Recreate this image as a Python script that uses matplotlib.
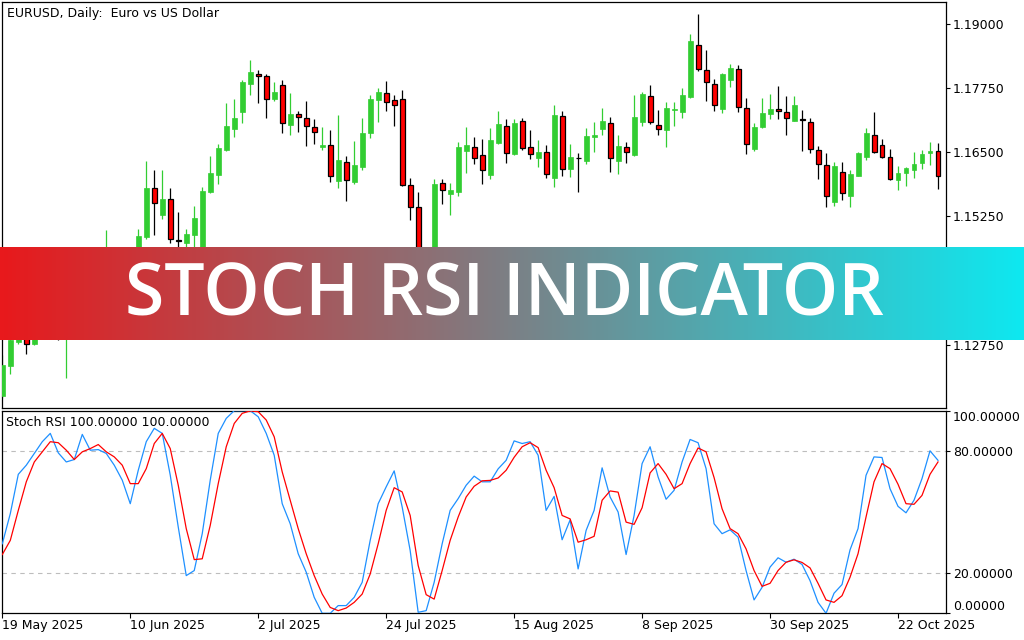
import matplotlib
matplotlib.use('Agg')
import matplotlib.pyplot as plt
import numpy as np
from matplotlib.colors import LinearSegmentedColormap

# daily EURUSD candles, 19 May 2025 .. 29 Oct 2025 (one per weekday)
opens = [1.1175, 1.1234, 1.1281, 1.1330, 1.1276, 1.1364, 1.1385, 1.1325, 1.1290, 1.1368,
         1.1347, 1.1444, 1.1372, 1.1419, 1.1445, 1.1396, 1.1420, 1.1424, 1.1484, 1.1580,
         1.1527, 1.1559, 1.1479, 1.1474, 1.1488, 1.1455, 1.1573, 1.1605, 1.1655, 1.1695,
         1.1728, 1.1784, 1.1803, 1.1799, 1.1754, 1.1781, 1.1704, 1.1725, 1.1717, 1.1699,
         1.1660, 1.1664, 1.1595, 1.1631, 1.1593, 1.1622, 1.1687, 1.1753, 1.1765, 1.1752,
         1.1754, 1.1586, 1.1543, 1.1405, 1.1414, 1.1590, 1.1568, 1.1572, 1.1653, 1.1661,
         1.1645, 1.1606, 1.1668, 1.1701, 1.1646, 1.1711, 1.1661, 1.1639, 1.1650, 1.1601,
         1.1721, 1.1617, 1.1640, 1.1633, 1.1681, 1.1695, 1.1707, 1.1634, 1.1661, 1.1645,
         1.1710, 1.1760, 1.1703, 1.1693, 1.1732, 1.1728, 1.1758, 1.1860, 1.1810, 1.1783,
         1.1734, 1.1792, 1.1812, 1.1736, 1.1657, 1.1700, 1.1724, 1.1735, 1.1728, 1.1712,
         1.1715, 1.1709, 1.1654, 1.1625, 1.1554, 1.1611, 1.1565, 1.1604, 1.1642, 1.1684,
         1.1665, 1.1641, 1.1597, 1.1609, 1.1615, 1.1630, 1.1648, 1.1652]
highs = [1.1255, 1.1300, 1.1345, 1.1350, 1.1375, 1.1418, 1.1390, 1.1345, 1.1390, 1.1385,
         1.1455, 1.1454, 1.1435, 1.1499, 1.1455, 1.1440, 1.1448, 1.1500, 1.1633, 1.1616,
         1.1616, 1.1580, 1.1533, 1.1500, 1.1546, 1.1583, 1.1643, 1.1667, 1.1747, 1.1754,
         1.1791, 1.1830, 1.1810, 1.1803, 1.1788, 1.1791, 1.1766, 1.1730, 1.1751, 1.1715,
         1.1700, 1.1694, 1.1723, 1.1643, 1.1672, 1.1718, 1.1762, 1.1776, 1.1789, 1.1762,
         1.1772, 1.1600, 1.1572, 1.1460, 1.1598, 1.1598, 1.1590, 1.1671, 1.1700, 1.1680,
         1.1676, 1.1698, 1.1731, 1.1715, 1.1715, 1.1717, 1.1694, 1.1674, 1.1665, 1.1743,
         1.1731, 1.1667, 1.1649, 1.1698, 1.1710, 1.1737, 1.1719, 1.1684, 1.1671, 1.1762,
         1.1768, 1.1782, 1.1733, 1.1749, 1.1749, 1.1776, 1.1881, 1.1920, 1.1850, 1.1793,
         1.1804, 1.1823, 1.1821, 1.1756, 1.1708, 1.1756, 1.1764, 1.1780, 1.1760, 1.1760,
         1.1733, 1.1717, 1.1663, 1.1649, 1.1631, 1.1631, 1.1616, 1.1650, 1.1697, 1.1729,
         1.1676, 1.1657, 1.1624, 1.1622, 1.1651, 1.1654, 1.1670, 1.1668]
lows = [1.1170, 1.1218, 1.1277, 1.1256, 1.1274, 1.1340, 1.1310, 1.1284, 1.1210, 1.1325,
        1.1340, 1.1360, 1.1357, 1.1405, 1.1372, 1.1385, 1.1410, 1.1418, 1.1481, 1.1488,
        1.1521, 1.1474, 1.1448, 1.1458, 1.1455, 1.1452, 1.1571, 1.1589, 1.1652, 1.1681,
        1.1708, 1.1762, 1.1747, 1.1718, 1.1751, 1.1687, 1.1683, 1.1689, 1.1663, 1.1666,
        1.1654, 1.1593, 1.1580, 1.1556, 1.1589, 1.1615, 1.1679, 1.1710, 1.1730, 1.1702,
        1.1585, 1.1518, 1.1400, 1.1392, 1.1392, 1.1549, 1.1528, 1.1564, 1.1610, 1.1628,
        1.1589, 1.1598, 1.1666, 1.1629, 1.1644, 1.1655, 1.1637, 1.1622, 1.1601, 1.1583,
        1.1603, 1.1602, 1.1573, 1.1628, 1.1651, 1.1684, 1.1612, 1.1608, 1.1630, 1.1643,
        1.1702, 1.1705, 1.1683, 1.1661, 1.1702, 1.1717, 1.1757, 1.1808, 1.1751, 1.1730,
        1.1726, 1.1778, 1.1728, 1.1646, 1.1652, 1.1698, 1.1715, 1.1716, 1.1683, 1.1712,
        1.1652, 1.1648, 1.1599, 1.1543, 1.1545, 1.1557, 1.1543, 1.1603, 1.1635, 1.1649,
        1.1639, 1.1596, 1.1577, 1.1585, 1.1601, 1.1618, 1.1626, 1.1578]
closes = [1.1235, 1.1283, 1.1330, 1.1277, 1.1364, 1.1385, 1.1325, 1.1290, 1.1368, 1.1347,
          1.1444, 1.1372, 1.1419, 1.1445, 1.1396, 1.1420, 1.1423, 1.1487, 1.1580, 1.1551,
          1.1559, 1.1481, 1.1478, 1.1491, 1.1522, 1.1575, 1.1609, 1.1658, 1.1702, 1.1717,
          1.1788, 1.1807, 1.1799, 1.1755, 1.1768, 1.1707, 1.1725, 1.1719, 1.1701, 1.1689,
          1.1665, 1.1604, 1.1635, 1.1596, 1.1626, 1.1687, 1.1754, 1.1768, 1.1748, 1.1742,
          1.1587, 1.1544, 1.1405, 1.1414, 1.1589, 1.1576, 1.1577, 1.1661, 1.1665, 1.1640,
          1.1615, 1.1674, 1.1706, 1.1648, 1.1708, 1.1659, 1.1646, 1.1651, 1.1608, 1.1723,
          1.1618, 1.1641, 1.1639, 1.1682, 1.1684, 1.1712, 1.1640, 1.1663, 1.1650, 1.1719,
          1.1764, 1.1710, 1.1695, 1.1737, 1.1735, 1.1762, 1.1868, 1.1812, 1.1787, 1.1742,
          1.1803, 1.1815, 1.1738, 1.1666, 1.1700, 1.1727, 1.1735, 1.1730, 1.1717, 1.1742,
          1.1714, 1.1657, 1.1628, 1.1564, 1.1624, 1.1570, 1.1608, 1.1649, 1.1688, 1.1650,
          1.1641, 1.1599, 1.1610, 1.1620, 1.1628, 1.1647, 1.1652, 1.1604]

stoch_k = [34.3, 49.2, 68.6, 73.1, 78.9, 84.7, 88.8, 79.2, 74.7, 75.9,
           88.3, 80.5, 80.8, 78.9, 73.1, 65.7, 54.1, 70.6, 84.7, 91.3,
           88.8, 68.2, 42.6, 18.6, 21.1, 39.3, 65.7, 88.8, 96.2, 100.0,
           100.0, 100.0, 97.0, 88.8, 78.0, 54.1, 44.2, 29.4, 20.3, 7.9,
           0.0, 0.0, 3.8, 3.8, 7.9, 15.3, 36.0, 54.1, 62.4, 70.3,
           52.5, 31.0, 0.5, 1.3, 15.3, 34.3, 50.8, 56.6, 63.2, 67.7,
           64.9, 64.9, 71.3, 75.5, 85.1, 83.8, 84.7, 78.0, 50.8, 57.7,
           36.3, 46.1, 21.9, 40.9, 50.8, 71.8, 57.4, 50.0, 29.0, 48.3,
           73.9, 82.2, 67.3, 56.3, 60.7, 74.7, 85.8, 84.2, 71.4, 44.2,
           39.3, 41.2, 37.6, 21.1, 6.6, 12.8, 22.8, 27.4, 25.2, 26.7,
           24.1, 16.1, 5.4, 0.0, 9.9, 14.2, 31.3, 41.8, 68.1, 77.2,
           76.9, 61.5, 52.8, 49.6, 55.8, 66.5, 80.2, 75.5]
stoch_d = [29.0, 36.0, 50.8, 64.9, 74.7, 79.7, 84.7, 84.2, 80.5, 75.9,
           79.7, 81.3, 83.3, 79.7, 77.2, 73.1, 64.0, 64.0, 71.4, 83.8,
           88.8, 81.3, 63.2, 41.8, 26.5, 26.9, 43.4, 64.0, 82.2, 93.7,
           98.7, 99.9, 99.5, 95.4, 87.1, 69.8, 55.8, 41.8, 29.4, 18.6,
           9.5, 2.9, 1.3, 2.6, 5.4, 9.5, 19.4, 34.3, 50.8, 62.0,
           59.9, 48.3, 23.6, 9.2, 7.0, 21.1, 36.0, 47.5, 57.4, 62.7,
           65.4, 65.6, 66.8, 70.6, 77.0, 82.2, 84.2, 81.8, 70.6, 62.0,
           48.3, 46.6, 35.1, 36.3, 38.0, 55.8, 60.4, 59.8, 45.0, 43.9,
           52.1, 69.3, 73.9, 68.6, 61.5, 64.0, 73.9, 81.6, 79.7, 67.0,
           51.6, 41.8, 39.3, 31.8, 21.1, 13.3, 14.8, 21.1, 25.2, 26.4,
           25.1, 22.4, 14.8, 6.6, 5.4, 8.7, 17.8, 29.4, 47.5, 64.9,
           73.9, 71.4, 63.7, 54.1, 53.8, 58.2, 68.6, 74.7]

date_labels = ['19 May 2025', '10 Jun 2025', '2 Jul 2025', '24 Jul 2025',
               '15 Aug 2025', '8 Sep 2025', '30 Sep 2025', '22 Oct 2025']
date_pos = [0, 16, 32, 48, 64, 80, 96, 112]
price_ticks = [1.19, 1.1775, 1.165, 1.1525, 1.14, 1.1275]
stoch_ticks = [0, 20, 80, 100]

W, H = 1024, 640
fig = plt.figure(figsize=(W / 100, H / 100), dpi=100)
fig.patch.set_facecolor('white')

def px_axes(x0, y0, x1, y1):
    return fig.add_axes([x0 / W, 1 - y1 / H, (x1 - x0) / W, (y1 - y0) / H])

ax1 = px_axes(2.3, 2.3, 946, 408.3)
ax2 = px_axes(2.3, 410.7, 946, 613.3)

o = np.array(opens)
h = np.array(highs)
l = np.array(lows)
c = np.array(closes)
x = np.arange(len(o))
up = c > o

green = '#32CD32'
wick_cols = [green if u else 'black' for u in up]
ax1.vlines(x, l, h, colors=wick_cols, linewidth=0.9, zorder=2)
body_lo = np.minimum(o, c)
body_h = np.maximum(np.abs(c - o), 0.00003)
ax1.bar(x[up], body_h[up], bottom=body_lo[up], width=0.62, color=green,
        edgecolor=green, linewidth=0.5, zorder=3)
ax1.bar(x[~up], body_h[~up], bottom=body_lo[~up], width=0.62, color='#FF0000',
        edgecolor='black', linewidth=0.9, zorder=3)

ax1.set_xlim(0.0, 118.0)
ax1.set_ylim(1.11507, 1.19429)
ax1.set_xticks([])
ax1.yaxis.tick_right()
ax1.set_yticks(price_ticks)
ax1.set_yticklabels(['%.5f' % p for p in price_ticks])

ax2.plot(x, stoch_k, color='#1E90FF', linewidth=0.9, zorder=3)
ax2.plot(x, stoch_d, color='#FF0000', linewidth=0.9, zorder=4)
for lev in (20, 80):
    ax2.axhline(lev, color='#BDBDBD', linewidth=0.8, linestyle=(0, (4, 4)), zorder=1)
ax2.set_xlim(0.0, 118.0)
ax2.set_ylim(0, 100)
ax2.yaxis.tick_right()
ax2.set_yticks(stoch_ticks)
ax2.set_yticklabels(['%.5f' % s for s in stoch_ticks])
for lab, s in zip(ax2.get_yticklabels(), stoch_ticks):
    if s == 100:
        lab.set_va('top')
    elif s == 0:
        lab.set_va('bottom')
ax2.set_xticks(date_pos)
ax2.set_xticklabels(date_labels, ha='left')

for ax in (ax1, ax2):
    for sp in ax.spines.values():
        sp.set_linewidth(0.9)
        sp.set_color('black')
    ax.tick_params(axis='y', direction='out', length=3, width=0.8, pad=2,
                   labelsize=9, colors='black')
    ax.tick_params(axis='x', direction='out', length=3.6, width=0.8, pad=0.5,
                   labelsize=9, colors='black')

fig.text(7 / W, 1 - 13.3 / H, 'EURUSD, Daily:  Euro vs US Dollar',
         ha='left', va='center', fontsize=9)
fig.text(5.7 / W, 1 - 423 / H, 'Stoch RSI 100.00000 100.00000',
         ha='left', va='center', fontsize=9)

# title banner across the chart
axb = px_axes(0, 246.7, 1024, 340)
cmap = LinearSegmentedColormap.from_list('banner', ['#E8191C', '#0EE8F0'])
axb.imshow(np.linspace(0, 1, 512)[None, :], aspect='auto', cmap=cmap,
           extent=[0, 1, 0, 1])
axb.set_xlim(0, 1)
axb.set_ylim(0, 1)
axb.axis('off')
axb.text(504 / W, (340 - 315) / 93.3, 'STOCH RSI INDICATOR', color='white',
         ha='center', va='baseline', fontsize=51.5, fontweight='semibold',
         family=['Open Sans', 'DejaVu Sans'])

fig.savefig('out.png', dpi=100)
